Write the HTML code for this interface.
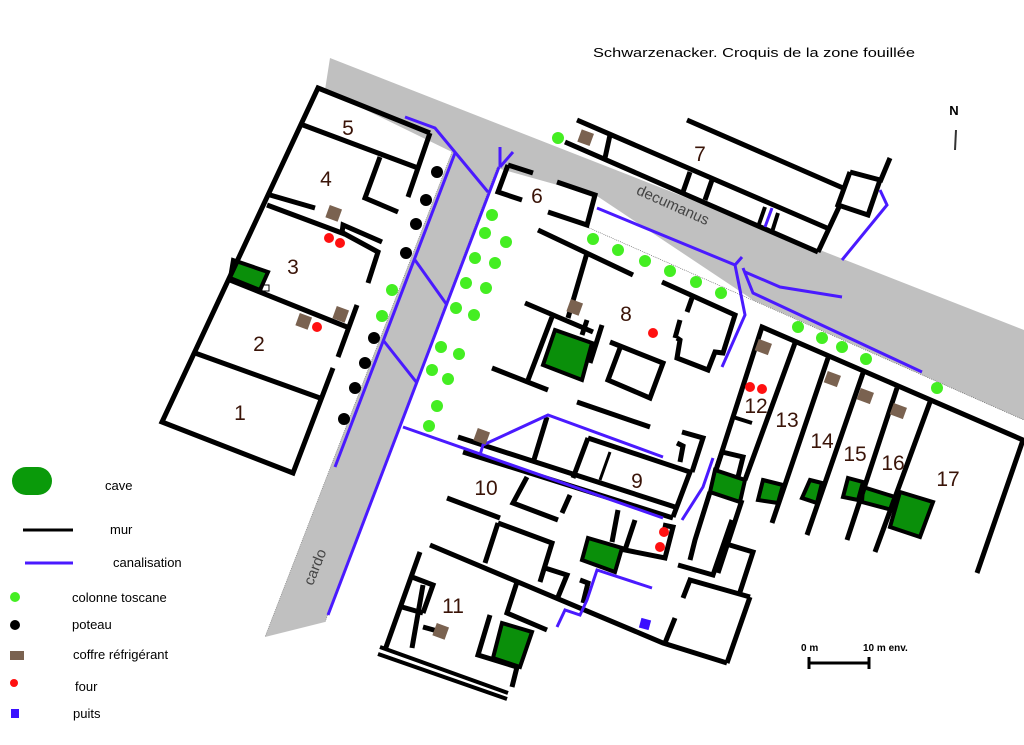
<!DOCTYPE html>
<html><head><meta charset="utf-8"><style>
html,body{margin:0;padding:0;background:#fff;}
svg{display:block;}
.w{stroke:#000;stroke-width:5;fill:none;stroke-linecap:butt;stroke-linejoin:miter;}
.b{stroke:#4a1aff;stroke-width:3;fill:none;}
.cv{fill:#0a8f0a;stroke:#000;stroke-width:4;}
.n{font-family:"Liberation Sans",sans-serif;font-size:21px;fill:#3a1408;text-anchor:middle;}
.l{font-family:"Liberation Sans",sans-serif;font-size:13px;fill:#000;}
</style></head><body>
<svg width="1024" height="745" viewBox="0 0 1024 745" xmlns="http://www.w3.org/2000/svg">
<!-- roads -->
<polygon points="330,58 1024,330 1024,420 753,300 597,196 497,168 325,622 265,637 452,152 325,90" fill="#c0c0c0"/>
<line x1="497" y1="168" x2="325" y2="622" stroke="#777" stroke-width="0.6" stroke-dasharray="1,1"/>
<line x1="452" y1="152" x2="265" y2="637" stroke="#777" stroke-width="0.6" stroke-dasharray="1,1"/>
<line x1="587" y1="227" x2="1024" y2="420" stroke="#555" stroke-width="0.6" stroke-dasharray="1,1"/>
<text x="673" y="210" transform="rotate(24 673 205)" font-family="Liberation Sans,sans-serif" font-size="15" fill="#444" text-anchor="middle">decumanus</text>
<text x="315" y="572" transform="rotate(-68 315 567)" font-family="Liberation Sans,sans-serif" font-size="15" fill="#444" text-anchor="middle">cardo</text>

<!-- caves -->
<polygon class="cv" points="233,260 268,272 260,290 230,278"/>
<polygon class="cv" points="555,330 592,343 582,380 543,365"/>
<polygon class="cv" points="588,538 622,548 615,572 582,560"/>
<polygon class="cv" points="502,623 532,632 520,667 493,658"/>
<polygon class="cv" points="715,470 745,480 740,502 710,492"/>
<polygon class="cv" points="763,480 783,485 778,503 758,500"/>
<polygon class="cv" points="810,480 822,483 817,503 802,498"/>
<polygon class="cv" points="848,478 863,482 858,500 843,497"/>
<polygon class="cv" points="863,487 895,497 892,510 862,502"/>
<polygon class="cv" points="900,492 933,502 920,537 890,527"/>
<rect x="262" y="285" width="7" height="6" fill="none" stroke="#000" stroke-width="1"/>

<!-- walls -->
<g class="w">
<polyline points="430,133 318,88 162,422 293,473 333,368"/>
<polyline points="430,133 408,197"/>
<line x1="303" y1="125" x2="418" y2="168"/>
<polyline points="380,157 365,198 398,212"/>
<line x1="270" y1="195" x2="315" y2="208"/>
<polyline points="267,205 342,233 343,225 382,242"/>
<polyline points="343,233 378,252 368,283"/>
<line x1="230" y1="280" x2="347" y2="327"/>
<line x1="357" y1="305" x2="338" y2="357"/>
<line x1="195" y1="353" x2="320" y2="398"/>
<!-- 6 -->
<line x1="508" y1="165" x2="533" y2="173"/>
<polyline points="508,165 498,192 522,200"/>
<polyline points="557,182 595,195 587,225 548,212"/>
<line x1="538" y1="230" x2="633" y2="275"/>
<!-- 7 -->
<line x1="577" y1="120" x2="827" y2="228"/>
<line x1="565" y1="142" x2="818" y2="252"/>
<line x1="687" y1="120" x2="843" y2="188"/>
<line x1="610" y1="135" x2="605" y2="158"/>
<polyline points="850,172 880,180 868,215 838,205 850,172"/>
<line x1="839" y1="207" x2="818" y2="252"/>
<line x1="890" y1="158" x2="880" y2="182"/>
<line x1="690" y1="172" x2="683" y2="192"/>
<line x1="712" y1="180" x2="705" y2="200"/>
<line x1="765" y1="207" x2="758" y2="227" stroke-width="4"/>
<line x1="778" y1="213" x2="772" y2="232" stroke-width="4"/>
<!-- 8 -->
<line x1="587" y1="253" x2="568" y2="318"/>
<line x1="525" y1="303" x2="593" y2="332"/>
<line x1="587" y1="320" x2="582" y2="335"/>
<line x1="602" y1="325" x2="590" y2="363"/>
<line x1="552" y1="317" x2="528" y2="380"/>
<line x1="492" y1="368" x2="548" y2="390"/>
<polyline points="662,282 735,315 723,353 715,352 708,370 677,358 680,340 677,338"/>
<line x1="692" y1="298" x2="687" y2="312"/>
<line x1="680" y1="320" x2="675" y2="338"/>
<polyline points="610,342 663,363 650,398 608,380 620,348"/>
<line x1="577" y1="402" x2="650" y2="427"/>
<!-- 9/10 -->
<line x1="458" y1="437" x2="675" y2="507"/>
<line x1="463" y1="452" x2="673" y2="518"/>
<line x1="547" y1="417" x2="533" y2="463"/>
<polyline points="588,438 690,472 673,517"/>
<line x1="588" y1="438" x2="573" y2="478"/>
<line x1="610" y1="452" x2="600" y2="480" stroke-width="3"/>
<polyline points="682,432 703,438 692,472"/>
<polyline points="677,443 683,446 680,462"/>
<polyline points="527,477 513,503 558,520"/>
<line x1="570" y1="495" x2="562" y2="513"/>
<line x1="447" y1="498" x2="500" y2="518"/>
<polyline points="498,523 552,543 540,582"/>
<line x1="498" y1="523" x2="485" y2="563"/>
<polyline points="430,545 663,643 727,663"/>
<line x1="618" y1="510" x2="612" y2="542"/>
<polyline points="635,520 625,550 665,558 673,527 663,525"/>
<polyline points="545,568 567,575 558,597"/>
<polyline points="517,582 507,613 547,630"/>
<polyline points="580,580 588,583 583,603"/>
<!-- 11 -->
<line x1="420" y1="552" x2="385" y2="650"/>
<polyline points="412,577 433,585 423,613"/>
<line x1="402" y1="607" x2="423" y2="613"/>
<line x1="423" y1="585" x2="412" y2="648"/>
<line x1="423" y1="627" x2="441" y2="632"/>
<line x1="380" y1="647" x2="508" y2="693" stroke-width="4"/>
<line x1="378" y1="654" x2="507" y2="699" stroke-width="4"/>
<polyline points="490,615 478,655 517,667"/>
<line x1="517" y1="667" x2="512" y2="687"/>
<!-- right lower -->
<polyline points="678,565 713,575 732,520"/>
<polyline points="688,580 688,580"/>
<polyline points="750,597 727,663"/>
<polyline points="750,597 690,580 683,598"/>
<line x1="675" y1="618" x2="665" y2="643"/>
<polyline points="723,543 753,552 740,592"/>
<!-- 12-17 -->
<polyline points="977,573 1023,440 762,327 716,470"/>
<polyline points="710,492 695,540 690,560"/>
<line x1="742" y1="500" x2="718" y2="573"/>
<line x1="795" y1="343" x2="745" y2="480"/>
<line x1="828" y1="358" x2="772" y2="523"/>
<line x1="863" y1="373" x2="807" y2="535"/>
<line x1="897" y1="388" x2="847" y2="540"/>
<line x1="930" y1="402" x2="875" y2="552"/>
<polyline points="722,452 743,457 738,477"/>
<line x1="722" y1="452" x2="716" y2="470"/>
<line x1="733" y1="417" x2="752" y2="423" stroke-width="4"/>
</g>

<!-- canalisations -->
<g class="b">
<polyline points="405,117 435,128 488,192"/>
<line x1="455" y1="153" x2="335" y2="467"/>
<line x1="500" y1="147" x2="500" y2="167"/>
<line x1="513" y1="152" x2="500" y2="167"/>
<line x1="499" y1="167" x2="328" y2="615"/>
<line x1="415" y1="260" x2="447" y2="305"/>
<line x1="383" y1="340" x2="417" y2="383"/>
<line x1="403" y1="427" x2="663" y2="518"/>
<polyline points="480,455 483,445 548,415 663,457"/>
<polyline points="597,208 735,265 745,315 722,367"/>
<line x1="735" y1="265" x2="742" y2="257"/>
<polyline points="743,268 753,293 922,372"/>
<polyline points="745,272 780,287 842,297"/>
<polyline points="880,190 887,205 842,260"/>
<line x1="772" y1="208" x2="765" y2="227"/>
<polyline points="713,458 703,487 682,520"/>
<polyline points="557,627 565,610 580,615 587,600 597,570 652,588"/>
</g>
<rect x="640" y="619" width="10" height="10" fill="#3a10ff" transform="rotate(15 645 624)"/>

<!-- columns -->
<g fill="#44ee22">
<circle cx="558" cy="138" r="6"/><circle cx="593" cy="239" r="6"/><circle cx="618" cy="250" r="6"/><circle cx="645" cy="261" r="6"/><circle cx="670" cy="271" r="6"/><circle cx="696" cy="282" r="6"/><circle cx="721" cy="293" r="6"/>
<circle cx="492" cy="215" r="6"/><circle cx="485" cy="233" r="6"/><circle cx="506" cy="242" r="6"/><circle cx="475" cy="258" r="6"/><circle cx="495" cy="263" r="6"/><circle cx="466" cy="283" r="6"/><circle cx="486" cy="288" r="6"/><circle cx="456" cy="308" r="6"/><circle cx="474" cy="315" r="6"/><circle cx="441" cy="347" r="6"/><circle cx="459" cy="354" r="6"/><circle cx="432" cy="370" r="6"/><circle cx="448" cy="379" r="6"/><circle cx="437" cy="406" r="6"/><circle cx="429" cy="426" r="6"/><circle cx="392" cy="290" r="6"/><circle cx="382" cy="316" r="6"/>
<circle cx="798" cy="327" r="6"/><circle cx="822" cy="338" r="6"/><circle cx="842" cy="347" r="6"/><circle cx="866" cy="359" r="6"/><circle cx="937" cy="388" r="6"/>
<circle cx="15" cy="597" r="5"/>
</g>
<g fill="#000">
<circle cx="437" cy="172" r="6"/><circle cx="426" cy="200" r="6"/><circle cx="416" cy="224" r="6"/><circle cx="406" cy="253" r="6"/><circle cx="374" cy="338" r="6"/><circle cx="365" cy="363" r="6"/><circle cx="355" cy="388" r="6"/><circle cx="344" cy="419" r="6"/>
<circle cx="15" cy="625" r="5"/>
</g>
<g fill="#7a6250">
<rect x="327" y="207" width="13" height="13" transform="rotate(20 334 214)"/>
<rect x="334" y="308" width="13" height="13" transform="rotate(20 341 315)"/>
<rect x="297" y="315" width="13" height="13" transform="rotate(20 304 322)"/>
<rect x="579" y="131" width="13" height="13" transform="rotate(20 585 138)"/>
<rect x="568" y="301" width="13" height="13" transform="rotate(20 575 308)"/>
<rect x="475" y="430" width="13" height="13" transform="rotate(20 482 437)"/>
<rect x="434" y="625" width="13" height="13" transform="rotate(20 441 632)"/>
<rect x="756" y="341" width="14" height="12" transform="rotate(20 763 348)"/>
<rect x="825" y="373" width="14" height="12" transform="rotate(20 832 380)"/>
<rect x="858" y="390" width="14" height="12" transform="rotate(20 865 397)"/>
<rect x="891" y="405" width="14" height="12" transform="rotate(20 898 412)"/>
<rect x="10" y="651" width="14" height="9"/>
</g>
<g fill="#ff1010">
<circle cx="329" cy="238" r="5"/><circle cx="340" cy="243" r="5"/><circle cx="317" cy="327" r="5"/><circle cx="653" cy="333" r="5"/><circle cx="664" cy="532" r="5"/><circle cx="660" cy="547" r="5"/><circle cx="750" cy="387" r="5"/><circle cx="762" cy="389" r="5"/>
<circle cx="14" cy="683" r="4"/>
</g>

<!-- numbers -->
<text class="n" x="240" y="420">1</text>
<text class="n" x="259" y="351">2</text>
<text class="n" x="293" y="274">3</text>
<text class="n" x="326" y="186">4</text>
<text class="n" x="348" y="135">5</text>
<text class="n" x="537" y="203">6</text>
<text class="n" x="700" y="161">7</text>
<text class="n" x="626" y="321">8</text>
<text class="n" x="637" y="488">9</text>
<text class="n" x="486" y="495">10</text>
<text class="n" x="453" y="613">11</text>
<text class="n" x="756" y="413">12</text>
<text class="n" x="787" y="427">13</text>
<text class="n" x="822" y="448">14</text>
<text class="n" x="855" y="461">15</text>
<text class="n" x="893" y="470">16</text>
<text class="n" x="948" y="486">17</text>

<!-- title, north, scale -->
<text class="l" x="593" y="57" textLength="322" lengthAdjust="spacingAndGlyphs">Schwarzenacker. Croquis de la zone fouillée</text>
<text x="954" y="115" font-family="Liberation Sans,sans-serif" font-size="13" font-weight="bold" text-anchor="middle">N</text>
<line x1="956" y1="130" x2="955" y2="150" stroke="#333" stroke-width="2"/>
<text x="801" y="651" font-family="Liberation Sans,sans-serif" font-size="10" font-weight="bold">0 m</text>
<text x="863" y="651" font-family="Liberation Sans,sans-serif" font-size="10" font-weight="bold">10 m env.</text>
<line x1="808" y1="663" x2="870" y2="663" stroke="#000" stroke-width="3"/>
<line x1="809" y1="657" x2="809" y2="669" stroke="#000" stroke-width="3"/>
<line x1="869" y1="657" x2="869" y2="669" stroke="#000" stroke-width="3"/>

<!-- legend -->
<rect x="12" y="467" width="40" height="28" rx="14" fill="#0a9a0a"/>
<text class="l" x="105" y="490">cave</text>
<line x1="23" y1="530" x2="73" y2="530" stroke="#000" stroke-width="3"/>
<text class="l" x="110" y="534">mur</text>
<line x1="25" y1="563" x2="73" y2="563" stroke="#4a1aff" stroke-width="3"/>
<text class="l" x="113" y="567">canalisation</text>
<text class="l" x="72" y="602">colonne toscane</text>
<text class="l" x="72" y="629">poteau</text>
<text class="l" x="73" y="659">coffre réfrigérant</text>
<text class="l" x="75" y="691">four</text>
<rect x="11" y="709" width="8" height="9" fill="#3a10ff"/>
<text class="l" x="73" y="718">puits</text>
</svg>
</body></html>
